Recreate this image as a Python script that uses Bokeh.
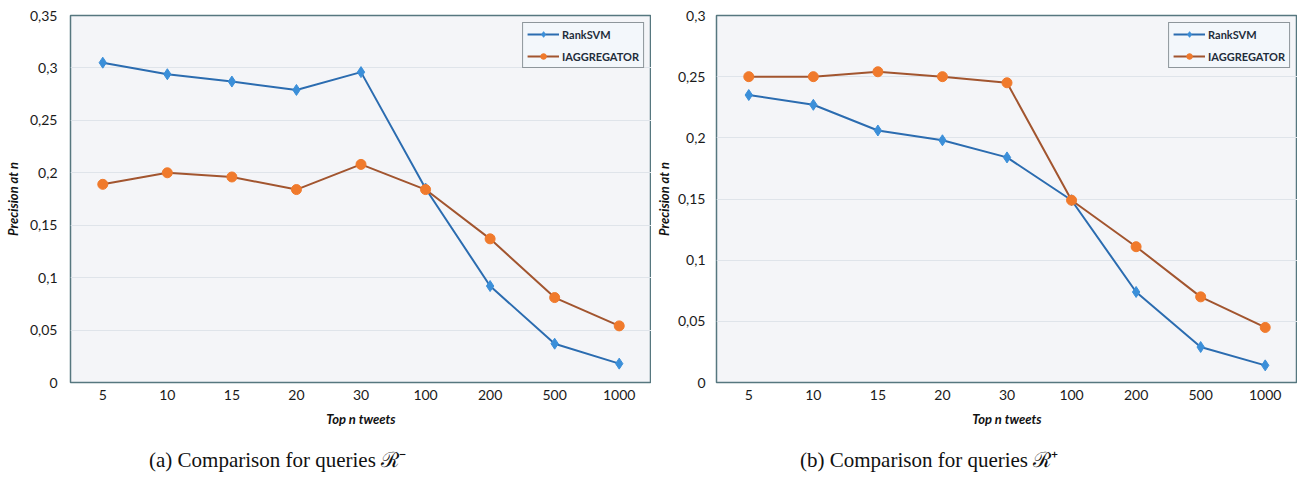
from bokeh.plotting import figure
from bokeh.models import (FactorRange, Range1d, FixedTicker, CustomJSTickFormatter,
                          Legend, LegendItem, Div)
from bokeh.layouts import row, column
from bokeh.embed import file_html
from bokeh.resources import INLINE

categories = ["5", "10", "15", "20", "30", "100", "200", "500", "1000"]

# Panel (a): queries R-
a_ranksvm = [0.305, 0.294, 0.287, 0.279, 0.296, 0.185, 0.092, 0.037, 0.018]
a_iagg = [0.189, 0.200, 0.196, 0.184, 0.208, 0.184, 0.137, 0.081, 0.054]
a_yticks = [0, 0.05, 0.1, 0.15, 0.2, 0.25, 0.3, 0.35]

# Panel (b): queries R+
b_ranksvm = [0.235, 0.227, 0.206, 0.198, 0.184, 0.149, 0.074, 0.029, 0.014]
b_iagg = [0.250, 0.250, 0.254, 0.250, 0.245, 0.149, 0.111, 0.070, 0.045]
b_yticks = [0, 0.05, 0.1, 0.15, 0.2, 0.25, 0.3]

series_names = ["RankSVM", "IAGGREGATOR"]
captions = ["(a) Comparison for queries \u211B\u207B", "(b) Comparison for queries \u211B\u207A"]

FONT = "Lato"

fmt = CustomJSTickFormatter(code="""
if (tick == 0) return '0';
var s = tick.toFixed(2).replace(/0+$/, '').replace(/\\.$/, '');
return s.replace('.', ',');
""")


def make_panel(rank, iagg, yticks, width, left, lab_sd, axl_sd):
    ymax = yticks[-1]
    p = figure(width=width, height=440, x_range=FactorRange(*categories),
               y_range=Range1d(0, ymax), output_backend="svg", toolbar_location=None,
               min_border_left=left, min_border_right=0, min_border_top=15,
               min_border_bottom=58)
    p.background_fill_color = "#f4f5f8"
    p.border_fill_color = "white"
    p.outline_line_color = "#56777f"
    p.outline_line_width = 1.5

    p.xgrid.grid_line_color = None
    p.ygrid.grid_line_color = "#dfe4ea"
    p.ygrid.grid_line_width = 1

    p.yaxis.ticker = FixedTicker(ticks=yticks)
    p.yaxis.formatter = fmt
    for ax in (p.xaxis, p.yaxis):
        ax.axis_line_color = None
        ax.major_tick_line_color = None
        ax.minor_tick_line_color = None
        ax.major_label_text_font = FONT
        ax.major_label_text_font_size = "14px"
        ax.major_label_text_color = "#1a1a1a"
        ax.axis_label_text_font = FONT
        ax.axis_label_text_font_size = "13px"
        ax.axis_label_text_font_style = "bold italic"
        ax.axis_label_text_color = "#111111"
    p.xaxis.major_label_standoff = 1
    p.yaxis.major_label_standoff = lab_sd
    p.xaxis.axis_label = "Top n tweets"
    p.yaxis.axis_label = "Precision at n"
    p.xaxis.axis_label_standoff = 8
    p.yaxis.axis_label_standoff = axl_sd

    l1 = p.line(categories, rank, line_color="#2b6cb0", line_width=2)
    s1 = p.scatter(categories, rank, marker="diamond", size=11,
                   fill_color="#3b8fd9", line_color="#3b8fd9")
    l2 = p.line(categories, iagg, line_color="#a2552f", line_width=2)
    s2 = p.scatter(categories, iagg, marker="circle", size=10,
                   fill_color="#f07a2c", line_color="#f07a2c")

    legend = Legend(items=[LegendItem(label=series_names[0], renderers=[l1, s1]),
                           LegendItem(label=series_names[1], renderers=[l2, s2])],
                    location="top_right")
    legend.label_text_font = FONT
    legend.label_text_font_size = "11px"
    legend.label_text_font_style = "bold"
    legend.label_text_color = "#1f2d3a"
    legend.glyph_width = 32
    legend.glyph_height = 14
    legend.label_height = 14
    legend.spacing = 8
    legend.padding = 4
    legend.margin = 7
    legend.label_standoff = 3
    legend.background_fill_color = "#f3f7fb"
    legend.background_fill_alpha = 1
    legend.border_line_color = "#2a363b"
    legend.border_line_width = 1.5
    p.add_layout(legend, "center")
    return p


def make_caption(text, width, pad_left):
    html = ('<div style="padding:2px 0 0 %dpx; font-family:\'Liberation Serif\', serif; '
            'font-size:21px; line-height:26px; color:#111111; white-space:nowrap;">%s</div>'
            % (pad_left, text))
    return Div(text=html, width=width, height=39)


p1 = make_panel(a_ranksvm, a_iagg, a_yticks, 651, 70, 7, 6)
p2 = make_panel(b_ranksvm, b_iagg, b_yticks, 646, 65, 5, 3)
c1 = make_caption(captions[0], 651, 144)
c2 = make_caption(captions[1], 646, 134)

layout = column(row(p1, p2), row(c1, c2))
open("out.html", "w").write(file_html(layout, INLINE))
